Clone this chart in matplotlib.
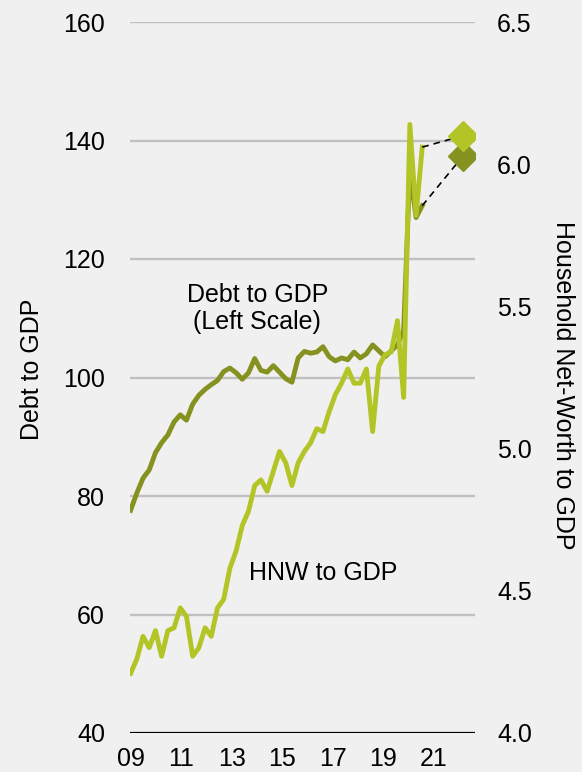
import numpy as np
import matplotlib.pyplot as plt

plt.rcParams['font.family'] = ['Liberation Sans', 'DejaVu Sans']

# quarterly, 2009Q1 .. 2020Q4
debt_gdp = [77.6, 80.5, 83.0, 84.4, 87.3, 89.0, 90.3, 92.5, 93.7, 92.8,
            95.5, 97.0, 98.0, 98.8, 99.5, 101.0, 101.6, 100.8, 99.7, 100.8,
            103.2, 101.2, 100.9, 102.0, 100.9, 99.8, 99.2, 103.3, 104.4, 104.1,
            104.3, 105.2, 103.5, 102.8, 103.3, 103.0, 104.3, 103.3, 104.0, 105.5,
            104.5, 103.5, 104.5, 105.5, 108.0, 135.0, 127.0, 129.0]
hnw_gdp = [4.21, 4.26, 4.34, 4.30, 4.36, 4.27, 4.36, 4.37, 4.44, 4.41,
           4.27, 4.30, 4.37, 4.34, 4.44, 4.47, 4.58, 4.64, 4.73, 4.78,
           4.87, 4.89, 4.85, 4.92, 4.99, 4.95, 4.87, 4.95, 4.99, 5.02,
           5.07, 5.06, 5.13, 5.19, 5.23, 5.28, 5.23, 5.23, 5.28, 5.06,
           5.29, 5.33, 5.34, 5.45, 5.18, 6.14, 5.82, 6.06]
debt_proj = 137.3
hnw_proj = 6.10
proj_pos = 53.5

year_labels = ['09', '11', '13', '15', '17', '19', '21']
left_ticks = [40, 60, 80, 100, 120, 140, 160]
right_ticks = [4.0, 4.5, 5.0, 5.5, 6.0, 6.5]

bg = '#f0f0f0'
c_debt = '#85921f'
c_hnw = '#b3c526'
fs = 18

q = np.arange(len(debt_gdp))

fig = plt.figure(figsize=(5.82, 7.72), dpi=100, facecolor=bg)
ax = fig.add_axes([130 / 582, 39 / 772, 345 / 582, 711 / 772])
ax.set_facecolor(bg)
ax2 = ax.twinx()
ax2.set_facecolor('none')

ax.set_ylim(40, 160)
ax2.set_ylim(4.0, 6.5)
ax.set_xlim(-0.1, 55.5)

for y in left_ticks[1:]:
    ax.axhline(y, color='#c0c0c0', lw=1.7, zorder=0)
ax.axhline(40, color='black', lw=1.6, zorder=1)

ax.plot(q, debt_gdp, color=c_debt, lw=3.5, solid_joinstyle='round', zorder=2)
ax.plot([q[-1], proj_pos], [debt_gdp[-1], debt_proj], color='black', lw=1.2,
        ls=(0, (4, 3)), zorder=2)
ax.plot([proj_pos], [debt_proj], marker='D', ms=15, color=c_debt, zorder=3)

ax2.plot(q, hnw_gdp, color=c_hnw, lw=3.5, solid_joinstyle='round', zorder=2)
ax2.plot([q[-1], proj_pos], [hnw_gdp[-1], hnw_proj], color='black', lw=1.2,
         ls=(0, (4, 3)), zorder=2)
ax2.plot([proj_pos], [hnw_proj], marker='D', ms=15, color=c_hnw, zorder=3)

for a in (ax, ax2):
    for s in a.spines.values():
        s.set_visible(False)
    a.tick_params(length=0, labelsize=fs)

ax.set_yticks(left_ticks)
ax.tick_params(axis='y', pad=18)
ax2.set_yticks(right_ticks)
ax2.set_yticklabels(['%.1f' % v for v in right_ticks])
ax2.tick_params(axis='y', pad=16)
ax.set_xticks(np.arange(len(year_labels)) * 8.15)
ax.set_xticklabels(year_labels)
ax.tick_params(axis='x', pad=10)

ax.set_ylabel('Debt to GDP', fontsize=fs, va='center')
ax.yaxis.set_label_coords(-0.284, 0.512)
ax2.set_ylabel('Household Net-Worth to GDP', fontsize=fs, rotation=270,
               va='center')
ax2.yaxis.set_label_coords(1.255, 0.489)

ax.text(20.4, 111.7, 'Debt to GDP\n(Left Scale)', fontsize=fs,
        ha='center', va='center', linespacing=1.15)
ax.text(31, 67, 'HNW to GDP', fontsize=fs, ha='center', va='center')

fig.savefig('out.png', dpi=100, facecolor=bg)
